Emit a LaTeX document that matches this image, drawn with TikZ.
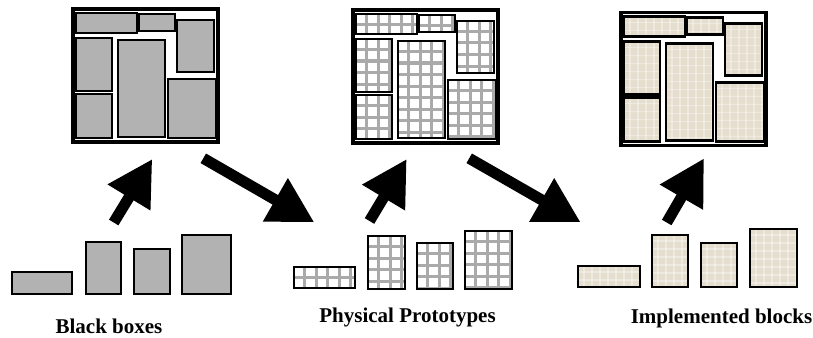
\documentclass[tikz,border=0pt]{standalone}
\usepackage{fontspec}
\setmainfont{Liberation Serif}
\usetikzlibrary{arrows.meta}
\definecolor{boxgray}{RGB}{178,178,178}
\definecolor{gridgray}{RGB}{170,170,170}
\definecolor{beige}{RGB}{229,222,206}
\tikzset{
  frameln/.style={draw=black,line width=3.2pt},
  boxln/.style={draw=black,line width=2.8pt},
  gridln/.style={draw=gridgray,line width=3pt},
  texln/.style={draw=white,opacity=0.35,line width=1.2pt},
  bigarrow/.style={line width=11pt,-{Triangle[length=45pt,width=47pt]}},
  lbl/.style={inner sep=0pt,anchor=base,font=\fontsize{21}{25}\selectfont\bfseries}
}
\newcommand\graybx[4]{\draw[boxln,fill=boxgray] (#1,#2) rectangle (#3,#4);}
\newcommand\gridbx[4]{%
  \fill[white] (#1,#2) rectangle (#3,#4);
  \begin{scope}
    \clip (#1,#2) rectangle (#3,#4);
    \foreach \k in {1,...,12} {
      \draw[gridln] ({#1+\k*11.5-1},#2) -- ({#1+\k*11.5-1},#4);
      \draw[gridln] (#1,{#2+\k*11.5-1}) -- (#3,{#2+\k*11.5-1});
    }
  \end{scope}
  \draw[boxln] (#1,#2) rectangle (#3,#4);}
\newcommand\beigebx[4]{%
  \fill[beige] (#1,#2) rectangle (#3,#4);
  \begin{scope}
    \clip (#1,#2) rectangle (#3,#4);
    \foreach \k in {1,...,16} {
      \draw[texln] ({#1+\k*8-2},#2) -- ({#1+\k*8-2},#4);
      \draw[texln] (#1,{#2+\k*8-2}) -- (#3,{#2+\k*8-2});
    }
  \end{scope}
  \draw[boxln] (#1,#2) rectangle (#3,#4);}
\newcommand\panelset[3]{% ox, oy, box macro
  \begin{scope}[shift={(#1,#2)}]
    \fill[white] (0,0) rectangle (145,133);
    #3{3}{4}{64}{24}
    #3{66}{5}{102}{22}
    #3{104}{11}{141}{63}
    #3{3}{29}{39}{82}
    #3{3}{85}{39}{129}
    #3{45}{31}{92}{128}
    #3{95}{70}{143}{129}
    \draw[frameln] (0,0) rectangle (145,133);
  \end{scope}}
\begin{document}
\begin{tikzpicture}[x=1pt,y=-1pt]
\useasboundingbox (0,0) rectangle (813,337);
% top panels
\panelset{73}{9}{\graybx}
\panelset{353}{10}{\gridbx}
\panelset{621}{12.5}{\beigebx}
% bottom boxes: black boxes
\graybx{12}{272}{72}{294}
\graybx{86}{242}{121}{294}
\graybx{134}{249}{170}{294}
\graybx{182}{235}{231}{294}
% physical prototypes
\gridbx{294}{267}{355}{288}
\gridbx{368}{236}{405}{289}
\gridbx{417}{243}{453}{289}
\gridbx{465}{231}{512}{289}
% implemented blocks
\beigebx{578}{266}{640}{287}
\beigebx{652}{235}{688}{287}
\beigebx{701}{243}{737}{287}
\beigebx{750}{229}{797}{287}
% labels
\node[lbl] (lab1) at (109,333) {Black boxes};
\node[lbl] (lab2) at (407.5,322) {Physical Prototypes};
\node[lbl] (lab3) at (721.5,323) {Implemented blocks};
% arrows
\coordinate (u1s) at (113.7,222.5); \coordinate (u1e) at (152.3,159);
\coordinate (u2s) at (369.5,221);   \coordinate (u2e) at (406.7,159);
\coordinate (u3s) at (666.7,222.5); \coordinate (u3e) at (704,158.3);
\coordinate (d1s) at (203.3,158.3); \coordinate (d1e) at (314.3,222.3);
\coordinate (d2s) at (469.2,158.3); \coordinate (d2e) at (580.7,222.3);
\draw[bigarrow] (u1s) -- (u1e);
\draw[bigarrow] (u2s) -- (u2e);
\draw[bigarrow] (u3s) -- (u3e);
\draw[bigarrow] (d1s) -- (d1e);
\draw[bigarrow] (d2s) -- (d2e);
\end{tikzpicture}
\end{document}
